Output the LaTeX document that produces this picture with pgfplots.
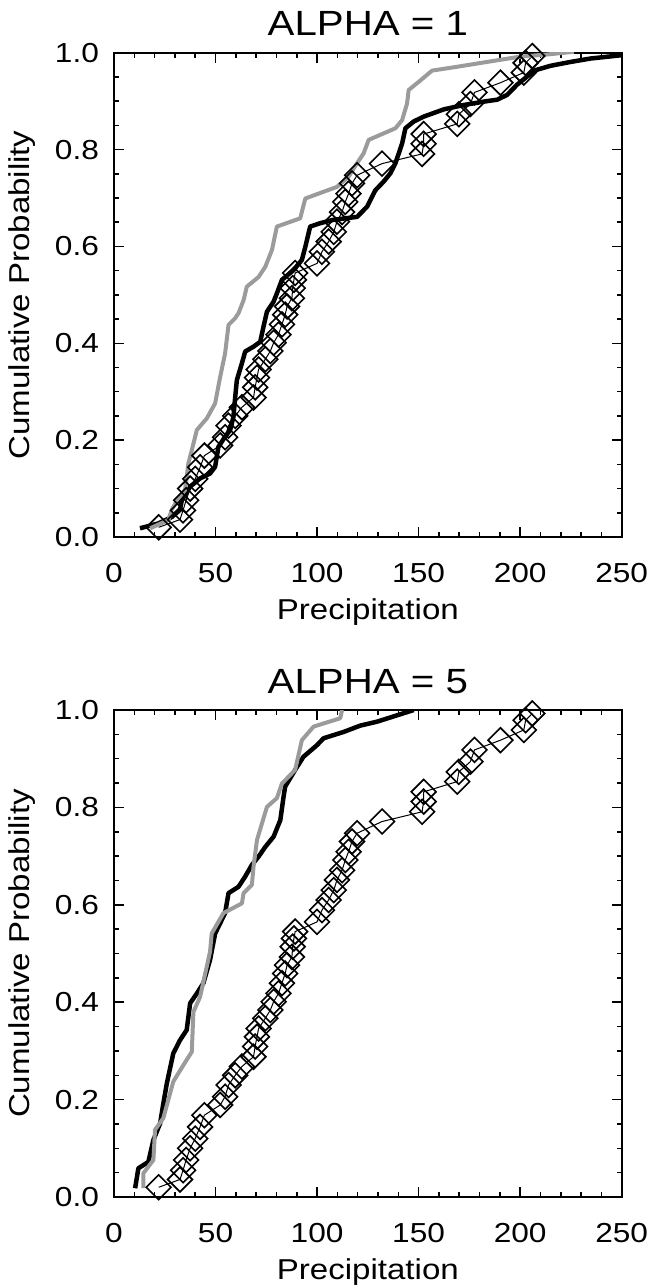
\documentclass[border=0pt]{standalone}
\usepackage{pgfplots}
\pgfplotsset{compat=1.18}
\usepackage{pgfplotstable}
\usepackage{fontspec}
\setmainfont{Liberation Sans}[FakeStretch=1.15]
\definecolor{lgray}{RGB}{155,155,155}
\tikzset{ttl/.style={anchor=base, yshift=6.8pt, font=\fontsize{14}{16}\selectfont, inner sep=0pt}}

\pgfplotstableread{
x y
22 0.020
32.5 0.036
34 0.055
35.5 0.076
37.5 0.100
40 0.120
42.4 0.144
44.5 0.168
52.3 0.189
54.7 0.206
56.4 0.230
59.7 0.250
63 0.268
68.7 0.288
69.5 0.309
70.4 0.329
71.2 0.346
74.5 0.367
77 0.384
78.6 0.401
81 0.418
82.7 0.439
84.3 0.459
85.2 0.476
87.6 0.493
88 0.514
88.6 0.531
89.2 0.545
100 0.565
102.4 0.589
105.7 0.610
108.2 0.630
109.8 0.651
112.3 0.671
113.9 0.692
115.5 0.709
117.2 0.730
119.7 0.747
132 0.771
151.7 0.791
152.5 0.812
152.5 0.832
169 0.853
169.8 0.873
175.5 0.894
177.5 0.918
190.3 0.938
201.8 0.959
202.7 0.979
206 0.993
}\obsdata

\pgfplotstableread{
x y
12.8 0.018
21.8 0.028
28.4 0.041
32.5 0.056
33.4 0.076
37.5 0.104
42.4 0.121
47.3 0.131
49.8 0.145
51.4 0.186
54.7 0.207
57.2 0.221
58.8 0.248
59.7 0.290
60.5 0.324
63.0 0.359
64.6 0.383
68.7 0.393
72.0 0.403
73.6 0.434
75.3 0.465
78.6 0.486
80.2 0.503
82.7 0.531
88.4 0.551
92.5 0.572
94.2 0.599
96.6 0.641
101.6 0.648
108.1 0.655
119.7 0.661
124.6 0.682
128.7 0.716
132.8 0.734
136.1 0.751
138.6 0.772
141.9 0.813
143.5 0.844
147.6 0.858
152.5 0.868
162.4 0.883
172.2 0.892
182.1 0.899
188.7 0.903
193.6 0.913
198.5 0.934
203.5 0.951
207.6 0.964
215.0 0.973
224.9 0.981
234.7 0.988
250.3 0.995
}\blackA

\pgfplotstableread{
x y
17.8 0.018
26.8 0.035
28.4 0.056
31.7 0.080
35.0 0.097
36.6 0.152
37.5 0.166
40.8 0.221
45.7 0.245
49.8 0.276
52.3 0.331
54.7 0.379
56.4 0.438
59.7 0.452
61.3 0.462
63.8 0.489
65.4 0.517
69.5 0.531
71.2 0.537
74.5 0.558
77.8 0.593
80.2 0.641
91.7 0.658
94.2 0.699
109.8 0.723
115.5 0.744
119.7 0.772
122.9 0.792
125.4 0.820
138.6 0.844
141.9 0.861
144.3 0.895
145.1 0.923
150.1 0.940
156.6 0.963
169.0 0.971
183.8 0.981
200.2 0.992
215.0 0.997
226.5 1.002
}\grayA

\pgfplotstableread{
x y
10.4 0.018
12.0 0.059
16.9 0.072
19.4 0.117
22.7 0.151
24.3 0.192
26.0 0.233
29.2 0.295
32.5 0.322
35.8 0.343
37.5 0.398
40.8 0.418
44.0 0.439
47.3 0.487
49.8 0.541
54.7 0.583
56.4 0.624
61.3 0.637
64.6 0.658
67.9 0.682
71.2 0.699
74.5 0.719
78.6 0.740
81.9 0.774
83.5 0.822
84.3 0.843
89.2 0.877
93.3 0.904
100.0 0.928
103.2 0.942
113.1 0.955
121.3 0.968
129.5 0.976
147.6 1.000
}\blackB

\pgfplotstableread{
x y
14.5 0.018
14.5 0.049
19.4 0.076
20.2 0.138
24.3 0.162
29.2 0.237
34.2 0.271
38.3 0.298
39.1 0.380
42.4 0.411
47.3 0.504
48.1 0.541
53.9 0.583
63.0 0.603
63.8 0.624
67.9 0.641
68.7 0.678
70.4 0.733
75.3 0.801
80.2 0.819
82.7 0.849
89.2 0.877
92.5 0.938
98.3 0.966
111.4 0.983
112.3 1.000
}\grayB

\pgfplotsset{
  idlpanel/.style={
    scale only axis,
    anchor=north west,
    width=203.08pt,
    xmin=0, xmax=250, ymin=0, ymax=1,
    xtick={0,50,100,150,200,250},
    ytick={0,0.2,0.4,0.6,0.8,1.0},
    minor x tick num=4,
    minor y tick num=3,
    tick align=inside,
    major tick length=4pt,
    minor tick length=2pt,
    tick style={black, line width=0.6pt},
    axis line style={black, line width=0.7pt},
    /pgf/number format/assume math mode=true,
    ticklabel style={font=\fontsize{11}{13}\selectfont},
    yticklabel style={anchor=east, xshift=-2.5pt,
      /pgf/number format/fixed, /pgf/number format/fixed zerofill,
      /pgf/number format/precision=1},
    xticklabel style={anchor=base, yshift=-18pt},
    xlabel={Precipitation},
    ylabel={Cumulative Probability},
    label style={font=\fontsize{11.5}{13}\selectfont},
    xlabel style={at={(axis description cs:0.5,0)}, anchor=base, yshift=-33pt},
    ylabel style={at={(axis description cs:-0.181,0.5)}, anchor=center},
  },
  obs/.style={black, line width=0.4pt, mark=square, mark size=3.5pt,
    mark options={rotate=45, line width=0.65pt, fill=none}},
  blk/.style={black, line width=1.8pt, no marks, line join=round},
  gry/.style={lgray, line width=1.6pt, no marks, line join=round},
}

\begin{document}
\begin{tikzpicture}
\useasboundingbox (0,0) rectangle (259.6pt,-514pt);
\begin{axis}[idlpanel, name=topax, at={(45.6pt,-21.08pt)}, height=193.72pt]
  \addplot[obs] table[x=x,y=y] {\obsdata};
  \addplot[blk] table[x=x,y=y] {\blackA};
  \addplot[gry] table[x=x,y=y] {\grayA};
\end{axis}
\node[ttl] at (topax.north) {ALPHA = 1};
\begin{axis}[idlpanel, name=botax, at={(45.6pt,-284pt)}, height=194.8pt]
  \addplot[obs] table[x=x,y=y] {\obsdata};
  \addplot[blk] table[x=x,y=y] {\blackB};
  \addplot[gry] table[x=x,y=y] {\grayB};
\end{axis}
\node[ttl] at (botax.north) {ALPHA = 5};
\end{tikzpicture}
\end{document}
